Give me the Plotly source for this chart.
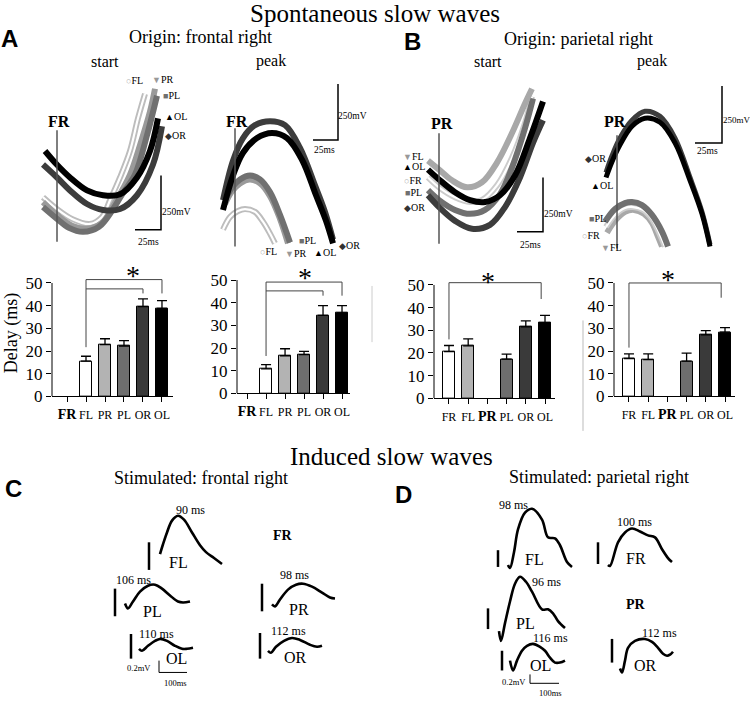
import plotly.graph_objects as go

W, H = 750, 714
SERIF = "Liberation Serif, Times New Roman, DejaVu Serif, serif"
SANS = "Liberation Sans, Arial, Helvetica, sans-serif"

# ======================= DATA =======================
# Spontaneous slow waves: averaged waveform segments
# time in ms relative to origin-channel marker, amplitude in mV
A_START_FL_T = [-14, 0, 15, 33, 45, 53, 63, 73, 81, 88]
A_START_FL_V = [225, 171, 126, 103, 135, 211, 315, 436, 585, 697]
A_START_PR_T = [-14, 0, 15, 30, 45, 58, 73, 83, 93, 98]
A_START_PR_V = [203, 144, 95, 81, 108, 200, 328, 463, 616, 720]
A_START_PL_T = [-14, 0, 12, 26, 42, 56, 66, 78, 90, 100]
A_START_PL_V = [180, 126, 85, 67, 90, 170, 245, 328, 508, 688]
A_START_OR_T = [-14, 0, 13, 30, 46, 63, 80, 96, 105]
A_START_OR_V = [374, 315, 256, 194, 167, 171, 234, 374, 549]
A_START_OL_T = [-12, 0, 13, 30, 46, 63, 80, 93, 101]
A_START_OL_V = [436, 373, 315, 256, 234, 238, 315, 436, 585]

A_PEAK_FL_T = [-12, -5, 3, 10, 20, 28, 35, 40]
A_PEAK_FL_V = [77, 135, 162, 171, 158, 113, 59, 14]
A_PEAK_PR_T = [-10, -3, 5, 15, 25, 35, 45, 53]
A_PEAK_PR_V = [194, 252, 288, 306, 288, 230, 126, 14]
A_PEAK_PL_T = [-10, -3, 5, 15, 25, 35, 45, 55]
A_PEAK_PL_V = [212, 270, 306, 324, 306, 248, 144, 18]
A_PEAK_OR_T = [-12, -2, 8, 20, 35, 50, 65, 80, 90, 98]
A_PEAK_OR_V = [212, 392, 495, 554, 572, 554, 450, 279, 158, 32]
A_PEAK_OL_T = [-12, -2, 8, 22, 37, 52, 67, 81, 91, 98]
A_PEAK_OL_V = [167, 324, 428, 495, 518, 495, 396, 234, 117, 14]

B_START_FL_T = [-11, 0, 13, 28, 43, 58, 73, 86, 93]
B_START_FL_V = [392, 351, 302, 270, 293, 383, 518, 653, 720]
B_START_OL_T = [-11, 0, 16, 31, 46, 61, 76, 91, 104]
B_START_OL_V = [351, 306, 248, 212, 203, 234, 324, 495, 662]
B_START_FR_T = [-11, 0, 16, 31, 43, 58, 73, 86, 93]
B_START_FR_V = [315, 270, 225, 203, 212, 279, 405, 563, 684]
B_START_PL_T = [-11, 0, 16, 31, 46, 61, 73, 86, 94]
B_START_PL_V = [257, 212, 167, 149, 167, 239, 360, 540, 675]
B_START_OR_T = [-11, 0, 16, 33, 51, 66, 81, 94, 104]
B_START_OR_V = [234, 180, 117, 81, 99, 180, 315, 473, 576]

B_PEAK_OR_T = [-11, -5, 3, 15, 28, 43, 58, 73, 85, 93]
B_PEAK_OR_V = [338, 414, 495, 576, 617, 594, 495, 315, 158, 9]
B_PEAK_OL_T = [-11, -5, 3, 15, 28, 43, 58, 73, 85, 93]
B_PEAK_OL_V = [315, 387, 464, 549, 585, 567, 473, 302, 149, 0]
B_PEAK_PL_T = [-12, -2, 8, 15, 25, 35, 45, 51]
B_PEAK_PL_V = [113, 171, 198, 203, 189, 144, 68, 0]
B_PEAK_FR_T = [-11, -2, 8, 16, 26, 35, 43, 48]
B_PEAK_FR_V = [90, 144, 176, 180, 167, 126, 54, 0]
B_PEAK_FL_T = [-10, -2, 8, 17, 27, 35, 41, 45]
B_PEAK_FL_V = [63, 117, 158, 167, 149, 108, 45, 0]

# scale bars (25 ms / 250 mV) and origin marker lines per waveform panel
SCALE_T = [[104, 104, 78], [103, 103, 78], [104, 104, 78], [105, 105, 78]]
SCALE_V = [[324, 76.5, 76.5], [742, 486, 486], [315, 67.5, 67.5], [733, 472, 472]]
ORIGIN_V = [[531, 22], [540, 0], [517, 13], [508, -9]]

# Delays (ms): mean and SEM
CHANNELS = ["FR", "FL", "PR", "PL", "OR", "OL"]
A_START_DELAY = [None, 15.5, 22.8, 22.2, 39.6, 38.8]
A_START_SEM = [0, 2.2, 2.6, 2.4, 3.4, 3.4]
A_PEAK_DELAY = [None, 10.8, 16.6, 17.1, 34.4, 35.5]
A_PEAK_SEM = [0, 1.9, 3.1, 1.4, 4.3, 3.2]
B_START_DELAY = [20.6, 23.1, None, 17.3, 31.5, 33.3]
B_START_SEM = [2.7, 3.1, 0, 2.2, 2.7, 3.3]
B_PEAK_DELAY = [16.7, 16.2, None, 15.5, 27.1, 28.3]
B_PEAK_SEM = [2.0, 2.5, 0, 3.6, 1.9, 2.0]
DELAY_TICKS = [0, 10, 20, 30, 40, 50]
# significance brackets: (left cat, right cat, level, left leg bottom, right leg bottom)
A_START_SIG = [(1, 5, 51.5, 21.7, 45.4), (1, 4, 47.4, None, 45.4)]
A_PEAK_SIG = [(1, 5, 49.1, 16.5, 43.1), (1, 4, 45.2, None, 43.1)]
B_START_SIG = [(0, 4.8, 51.0, 26.0, 43.8)]
B_PEAK_SIG = [(0, 4.8, 50.0, 21.5, 43.5)]
STAR_POS = [(3.5, 53.5), (3.05, 51.0), (2.03, 51.5), (2.03, 51.5)]

# Induced slow waves (time ms, amplitude mV, in the panel frame)
C_FL_T = [210, 220.5, 234.5, 252, 273, 294, 322, 350, 371, 399, 427]
C_FL_V = [1.184, 1.264, 1.36, 1.456, 1.496, 1.464, 1.36, 1.256, 1.2, 1.152, 1.104]
C_PL_T = [87.5, 98, 115.5, 140, 168, 192.5, 217, 245, 273, 290.5, 315]
C_PL_V = [0.784, 0.744, 0.8, 0.88, 0.928, 0.936, 0.904, 0.848, 0.8, 0.792, 0.8]
C_OL_T = [136.5, 147, 168, 192.5, 210, 234.5, 262.5, 287, 304.5, 325.5]
C_OL_V = [0.416, 0.4, 0.44, 0.48, 0.496, 0.48, 0.44, 0.416, 0.416, 0.424]
C_PR_T = [602, 612.5, 630, 658, 686, 710.5, 742, 777, 805, 822.5]
C_PR_V = [0.776, 0.76, 0.816, 0.896, 0.936, 0.944, 0.92, 0.872, 0.832, 0.824]
C_OR_T = [588, 598.5, 616, 644, 672, 700, 735, 759.5, 777]
C_OR_V = [0.4, 0.384, 0.432, 0.48, 0.504, 0.488, 0.448, 0.432, 0.44]
C_AMP_BARS = [(171.5, 1.28, 1.056), (52.5, 0.904, 0.68), (108.5, 0.536, 0.336),
              (567, 0.944, 0.72), (560, 0.544, 0.336)]
C_SCALE_T = [206.5, 206.5, 304.5]
C_SCALE_V = [0.32, 0.224, 0.224]

D_FL_T = [98, 105, 119, 133, 157.5, 182, 217, 238, 262.5, 280, 304.5, 322]
D_FL_V = [1.096, 1.072, 1.2, 1.384, 1.52, 1.552, 1.464, 1.32, 1.312, 1.256, 1.12, 1.08]
D_FR_T = [448, 455, 483, 507.5, 532, 560, 588, 612.5, 637, 658, 672]
D_FR_V = [1.096, 1.088, 1.28, 1.36, 1.392, 1.368, 1.336, 1.32, 1.224, 1.152, 1.12]
D_PL_T = [66.5, 73.5, 87.5, 105, 122.5, 140, 161, 182, 217, 238, 255.5, 273, 297.5]
D_PL_V = [0.56, 0.48, 0.624, 0.8, 0.944, 1.0, 0.96, 0.88, 0.736, 0.736, 0.704, 0.64, 0.584]
D_OL_T = [105, 115.5, 129.5, 147, 164.5, 185.5, 210, 227.5, 245, 262.5, 280, 297.5]
D_OL_V = [0.32, 0.24, 0.32, 0.4, 0.44, 0.456, 0.432, 0.4, 0.344, 0.304, 0.304, 0.32]
D_OR_T = [490, 497, 507.5, 518, 542.5, 577.5, 602, 623, 640.5, 654.5, 665, 675.5]
D_OR_V = [0.256, 0.224, 0.32, 0.424, 0.48, 0.496, 0.472, 0.424, 0.376, 0.36, 0.368, 0.392]
D_AMP_BARS = [(63, 1.216, 1.08), (413, 1.28, 1.104), (28, 0.744, 0.576),
              (77, 0.4, 0.24), (462, 0.496, 0.304)]
D_SCALE_T = [175, 175, 276.5]
D_SCALE_V = [0.208, 0.136, 0.136]

# ======================= FIGURE =======================
fig = go.Figure()
axes = {}
shapes = []
annots = []


def fx(px):
    return px / W


def fy(py):
    return 1 - py / H


def refs(n):
    return ("x", "y") if n == 1 else (f"x{n}", f"y{n}")


def add_axes(n, x0, x1, ytop, ybot, xr, yr):
    xr_, yr_ = refs(n)
    key = "" if n == 1 else str(n)
    axes["xaxis" + key] = dict(domain=[fx(x0), fx(x1)], range=xr, anchor=yr_, visible=False,
                               fixedrange=True, showgrid=False, zeroline=False)
    axes["yaxis" + key] = dict(domain=[fy(ybot), fy(ytop)], range=yr, anchor=xr_, visible=False,
                               fixedrange=True, showgrid=False, zeroline=False)


def line(n, x, y, color="black", width=1.5, shape="linear"):
    xr_, yr_ = refs(n)
    fig.add_trace(go.Scatter(x=x, y=y, mode="lines", xaxis=xr_, yaxis=yr_, hoverinfo="skip",
                             line=dict(color=color, width=width, shape=shape)))


def wave(n, t, v, color, hollow=False, width=6):
    line(n, t, v, color=color, width=width, shape="spline")
    if hollow:
        line(n, t, v, color="white", width=2.2, shape="spline")


def ann(text, px, py, size, family=SERIF, xanchor="center", bold=False, **kw):
    if bold:
        text = "<b>" + text + "</b>"
    annots.append(dict(text=text, x=fx(px), y=fy(py), xref="paper", yref="paper",
                       showarrow=False, xanchor=xanchor, yanchor="middle",
                       font=dict(family=family, size=size, color="black"), **kw))


def sym(s, color, label):
    return f"<span style='color:{color};font-size:9px'>{s}</span>{label}"


# ---------- waveform panels ----------
WY = [-22.5, 787.5]
add_axes(1, 35, 185, 75, 255, [-22, 128], WY)
add_axes(2, 205, 375, 75, 255, [-30, 140], WY)
add_axes(3, 400, 560, 75, 255, [-39, 121], WY)
add_axes(4, 580, 745, 75, 255, [-37, 128], WY)

C_FL, C_PR, C_PL, C_OR, C_OL = "#bdbdbd", "#9a9a9a", "#707070", "#3c3c3c", "#000000"
wave(1, A_START_FL_T, A_START_FL_V, C_FL, hollow=True)
wave(1, A_START_PR_T, A_START_PR_V, C_PR)
wave(1, A_START_PL_T, A_START_PL_V, C_PL)
wave(1, A_START_OR_T, A_START_OR_V, C_OR)
wave(1, A_START_OL_T, A_START_OL_V, C_OL)

wave(2, A_PEAK_FL_T, A_PEAK_FL_V, C_FL, hollow=True)
wave(2, A_PEAK_PR_T, A_PEAK_PR_V, C_PR)
wave(2, A_PEAK_PL_T, A_PEAK_PL_V, C_PL)
wave(2, A_PEAK_OR_T, A_PEAK_OR_V, C_OR)
wave(2, A_PEAK_OL_T, A_PEAK_OL_V, C_OL)

B_FL, B_FR = "#a8a8a8", "#cccccc"
wave(3, B_START_FR_T, B_START_FR_V, B_FR, hollow=True)
wave(3, B_START_PL_T, B_START_PL_V, C_PL)
wave(3, B_START_FL_T, B_START_FL_V, B_FL)
wave(3, B_START_OR_T, B_START_OR_V, C_OR)
wave(3, B_START_OL_T, B_START_OL_V, C_OL)

wave(4, B_PEAK_FL_T, B_PEAK_FL_V, B_FL)
wave(4, B_PEAK_FR_T, B_PEAK_FR_V, B_FR, hollow=True)
wave(4, B_PEAK_PL_T, B_PEAK_PL_V, C_PL)
wave(4, B_PEAK_OR_T, B_PEAK_OR_V, C_OR, width=5)
wave(4, B_PEAK_OL_T, B_PEAK_OL_V, C_OL, width=5)

for i in range(4):
    line(i + 1, [0, 0], ORIGIN_V[i], color="#555555", width=1.5)
    line(i + 1, SCALE_T[i], SCALE_V[i], color="black", width=1.5)

# ---------- bar charts ----------
BAR_AX = [
    (5, 52, 173, 402, [-0.79, 5.58]),
    (6, 237, 350, 399, [-0.53, 5.42]),
    (7, 434, 555, 404, [-0.78, 5.52]),
    (8, 614, 735, 402, [-0.78, 5.52]),
]
TICKTEXT_A = ["<b><span style='font-size:14px'>FR</span></b>", "FL", "PR", "PL", "OR", "OL"]
TICKTEXT_B = ["FR", "FL", "<b><span style='font-size:14px'>PR</span></b>", "PL", "OR", "OL"]
COLORS_A = ["white", "white", "#b3b3b3", "#6e6e6e", "#3a3a3a", "#000000"]
COLORS_B = ["white", "#b3b3b3", "white", "#6e6e6e", "#3a3a3a", "#000000"]
bar_sets = [
    (A_START_DELAY, A_START_SEM, COLORS_A, TICKTEXT_A, A_START_SIG),
    (A_PEAK_DELAY, A_PEAK_SEM, COLORS_A, TICKTEXT_A, A_PEAK_SIG),
    (B_START_DELAY, B_START_SEM, COLORS_B, TICKTEXT_B, B_START_SIG),
    (B_PEAK_DELAY, B_PEAK_SEM, COLORS_B, TICKTEXT_B, B_PEAK_SIG),
]
PXU = 2.3  # px per ms of delay axis
for (n, x0, x1, y0px, xr), (delay, sem, colors, ttext, sig), star in zip(BAR_AX, bar_sets, STAR_POS):
    xr_, yr_ = refs(n)
    key = str(n)
    ytop = y0px - 55 * PXU
    axes["xaxis" + key] = dict(domain=[fx(x0), fx(x1)], range=xr, anchor=yr_, fixedrange=True,
                               showgrid=False, zeroline=False, showline=True, linecolor="black",
                               linewidth=1, ticks="outside", ticklen=5, tickwidth=1,
                               tickcolor="black", tickvals=list(range(6)), ticktext=ttext,
                               tickfont=dict(family=SERIF, size=12, color="black"),
                               ticklabelstandoff=2)
    axes["yaxis" + key] = dict(domain=[fy(y0px), fy(ytop)], range=[0, 55], anchor=xr_,
                               fixedrange=True, showgrid=False, zeroline=False, showline=False,
                               ticks="outside", ticklen=5, tickwidth=1, tickcolor="black",
                               tickvals=DELAY_TICKS,
                               tickfont=dict(family=SERIF, size=17, color="black"))
    shapes.append(dict(type="line", xref=xr_ + " domain", yref=yr_, x0=0, x1=0, y0=0, y1=50,
                       line=dict(color="black", width=1)))
    fig.add_trace(go.Bar(x=list(range(6)), y=delay, width=0.62, xaxis=xr_, yaxis=yr_,
                         hoverinfo="skip",
                         marker=dict(color=colors, line=dict(color="black", width=1)),
                         error_y=dict(type="data", symmetric=False, array=sem,
                                      arrayminus=[0] * 6, color="black", thickness=1.3,
                                      width=5)))
    for (xl, xrr, lev, lb, rb) in sig:
        if lb is None:
            bx, by = [xl, xrr, xrr], [lev, lev, rb]
        else:
            bx, by = [xl, xl, xrr, xrr], [lb, lev, lev, rb]
        line(n, bx, by, color="#444444", width=1)
    annots.append(dict(text="*", x=star[0], y=star[1], xref=xr_, yref=yr_, showarrow=False,
                       xanchor="center", yanchor="middle",
                       font=dict(family=SERIF, size=28, color="black")))

# faint separators
shapes.append(dict(type="line", xref="paper", yref="paper", x0=fx(372), x1=fx(372),
                   y0=fy(347), y1=fy(290), line=dict(color="#cccccc", width=1)))
shapes.append(dict(type="line", xref="paper", yref="paper", x0=fx(583), x1=fx(583),
                   y0=fy(437), y1=fy(325), line=dict(color="#bbbbbb", width=1)))

# ---------- induced slow waves ----------
add_axes(9, 100, 350, 500, 710, [0, 875], [0, 1.68])
add_axes(10, 480, 700, 500, 710, [0, 770], [0, 1.68])
for t, v in [(C_FL_T, C_FL_V), (C_PL_T, C_PL_V), (C_OL_T, C_OL_V), (C_PR_T, C_PR_V),
             (C_OR_T, C_OR_V)]:
    line(9, t, v, color="black", width=2.6, shape="spline")
for t, v in [(D_FL_T, D_FL_V), (D_FR_T, D_FR_V), (D_PL_T, D_PL_V), (D_OL_T, D_OL_V),
             (D_OR_T, D_OR_V)]:
    line(10, t, v, color="black", width=2.6, shape="spline")
for n, bars in [(9, C_AMP_BARS), (10, D_AMP_BARS)]:
    bx, by = [], []
    for (t, vt, vb) in bars:
        bx += [t, t, None]
        by += [vt, vb, None]
    line(n, bx, by, color="black", width=2.5)
line(9, C_SCALE_T, C_SCALE_V, color="black", width=1)
line(10, D_SCALE_T, D_SCALE_V, color="black", width=1)

# ---------- text ----------
ann("Spontaneous slow waves", 375, 14, 25)
ann("Induced slow waves", 392, 463, 25)
ann("A", 9, 39, 24, family=SANS, bold=True)
ann("B", 412, 42, 24, family=SANS, bold=True)
ann("C", 13, 495, 24, family=SANS, bold=True)
ann("D", 404, 502, 24, family=SANS, bold=True)
ann("Origin: frontal right", 200, 38, 18)
ann("Origin: parietal right", 578, 40, 18)
ann("start", 105, 62, 16)
ann("peak", 271, 62, 16)
ann("start", 488, 62, 16)
ann("peak", 652, 62, 16)
ann("Stimulated: frontal right", 201, 485, 18)
ann("Stimulated: parietal right", 599, 484, 18)
ann("Delay (ms)", 11, 338, 18, textangle=-90)

# origin labels
ann("FR", 59, 123, 16, bold=True)
ann("FR", 237, 123, 16, bold=True)
ann("PR", 442, 125, 16, bold=True)
ann("PR", 615, 123, 16, bold=True)

# marker legends
G1, G2, G3, G4 = "#b0b0b0", "#999999", "#707070", "#000000"
for txt, px, py in [
    (sym("○", G1, "FL"), 134, 82), (sym("▼", G2, "PR"), 162, 81), (sym("■", G3, "PL"), 171, 97),
    (sym("▲", G4, "OL"), 176, 118), (sym("◆", "#333", "OR"), 175, 137),
    (sym("○", G1, "FL"), 268, 255), (sym("▼", G2, "PR"), 295, 257), (sym("■", G3, "PL"), 307, 244),
    (sym("▲", G4, "OL"), 325, 256), (sym("◆", "#333", "OR"), 349, 249),
    (sym("▼", G2, "FL"), 413, 159), (sym("▲", G4, "OL"), 414, 169), (sym("○", G1, "FR"), 413, 183),
    (sym("■", G3, "PL"), 413, 195), (sym("◆", "#333", "OR"), 414, 210),
    (sym("◆", "#333", "OR"), 595, 161), (sym("▲", G4, "OL"), 602, 188), (sym("■", G3, "PL"), 597, 222),
    (sym("○", G1, "FR"), 591, 239), (sym("▼", G2, "FL"), 611, 251),
]:
    ann(txt, px, py, 10)

# scale labels
for txt, px, py in [("250mV", 176, 215), ("25ms", 148, 245), ("250mV", 352, 118), ("25ms", 324, 152),
                    ("250mV", 558, 217), ("25ms", 530, 248), ("25ms", 707, 153)]:
    ann(txt, px, py, 9.5)
ann("250mV", 721, 122, 9, xanchor="left")

# induced panel labels
for txt, px, py, s in [
    ("90 ms", 190, 517, 12), ("FL", 178, 570, 16), ("106 ms", 133, 588, 12), ("PL", 152, 620, 16),
    ("110 ms", 156, 643, 12), ("OL", 176, 668, 16), ("98 ms", 294, 583, 12), ("PR", 299, 618, 16),
    ("112 ms", 288, 640, 12), ("OR", 295, 667, 16), ("0.2mV", 139, 677, 8.5), ("100ms", 175, 693, 8.5),
    ("98 ms", 513, 512, 12), ("FL", 534, 567, 16), ("100 ms", 634, 529, 12), ("FR", 636, 566, 16),
    ("96 ms", 546, 590, 12), ("PL", 525, 632, 16), ("116 ms", 550, 647, 12), ("OL", 540, 675, 16),
    ("112 ms", 659, 642, 12), ("OR", 645, 675, 16), ("0.2mV", 514, 692, 8.5), ("100ms", 550, 703, 8.5),
]:
    ann(txt, px, py, s)
ann("FR", 283, 543, 14, bold=True)
ann("PR", 636, 613, 14, bold=True)

fig.update_layout(width=W, height=H, margin=dict(l=0, r=0, t=0, b=0), showlegend=False,
                  paper_bgcolor="white", plot_bgcolor="rgba(0,0,0,0)", shapes=shapes,
                  annotations=annots, bargap=0, **axes)
fig.write_html("out.html", config={"displayModeBar": False},
               post_script="document.body.style.margin='0px';document.body.style.overflow='hidden';")
